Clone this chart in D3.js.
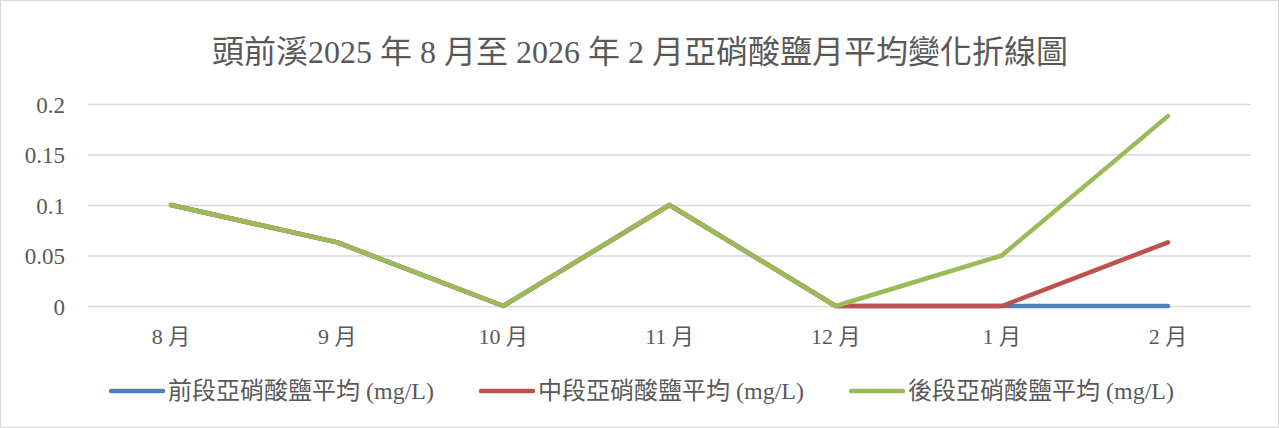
<!DOCTYPE html>
<html>
<head>
<meta charset="utf-8">
<script src="https://cdn.jsdelivr.net/npm/d3@7"></script>
<style>
  html, body { margin: 0; padding: 0; background: #fff; }
  svg { display: block; }
  .cjk { font-family: "Liberation Serif", "Noto Sans CJK TC", serif; }
</style>
</head>
<body>
<svg id="chart" width="1279" height="428"></svg>
<script>
// Monthly nitrite averages (mg/L) at three river sections
const months = ["8 月", "9 月", "10 月", "11 月", "12 月", "1 月", "2 月"];
const frontSeg = [0.1, 0.063, 0, 0.1, 0, 0, 0];
const midSeg   = [0.1, 0.063, 0, 0.1, 0, 0, 0.063];
const backSeg  = [0.1, 0.063, 0, 0.1, 0, 0.05, 0.188];
const yTicks = [0, 0.05, 0.1, 0.15, 0.2];
const seriesNames = ["前段亞硝酸鹽平均 (mg/L)", "中段亞硝酸鹽平均 (mg/L)", "後段亞硝酸鹽平均 (mg/L)"];
const seriesColors = ["#4f81bd", "#c0504d", "#9bbb59"];
const titleText = "頭前溪2025 年 8 月至 2026 年 2 月亞硝酸鹽月平均變化折線圖";

const series = [frontSeg, midSeg, backSeg].map((vals, i) => ({
  name: seriesNames[i], color: seriesColors[i], values: vals
}));

const W = 1279, H = 428;
const plot = { left: 88, right: 1251, top: 104, bottom: 306 };
const svg = d3.select("#chart");

// outer chart frame
svg.append("rect").attr("x", 0.5).attr("y", 0.5).attr("width", W - 1).attr("height", H - 1)
  .attr("fill", "#fff").attr("stroke", "#d9d9d9");

const x = d3.scaleBand().domain(months).range([plot.left, plot.right]);
const y = d3.scaleLinear().domain([0, 0.2]).range([plot.bottom, plot.top]);

// title
svg.append("text").attr("class", "cjk")
  .attr("x", 640).attr("y", 63).attr("text-anchor", "middle")
  .attr("font-size", 32).attr("fill", "#595959").text(titleText);

// horizontal gridlines and y labels
const yAxis = d3.axisLeft(y).tickValues(yTicks).tickSize(-(plot.right - plot.left))
  .tickPadding(23).tickFormat(d => String(d));
const gy = svg.append("g").attr("transform", `translate(${plot.left},0)`).call(yAxis);
gy.select(".domain").remove();
gy.selectAll(".tick line").attr("stroke", "#d9d9d9").attr("stroke-width", 1.3);
gy.selectAll(".tick text").attr("class", "cjk").attr("font-size", 23).attr("fill", "#595959")
  .attr("dy", "0.35em");

// category labels
const xAxis = d3.axisBottom(x).tickSize(0).tickPadding(22);
const gx = svg.append("g").attr("transform", `translate(0,${plot.bottom})`).call(xAxis);
gx.select(".domain").remove();
gx.selectAll(".tick text").attr("class", "cjk").attr("font-size", 22).attr("fill", "#595959");

// series lines
const line = d3.line().x((d, i) => x(months[i]) + x.bandwidth() / 2).y(d => y(d));
svg.append("g").selectAll("path").data(series).join("path")
  .attr("d", d => line(d.values))
  .attr("fill", "none").attr("stroke", d => d.color).attr("stroke-width", 4.5)
  .attr("stroke-linecap", "round").attr("stroke-linejoin", "round");

// legend
const legendX = [111, 481, 851];
const lg = svg.append("g").selectAll("g").data(series).join("g")
  .attr("transform", (d, i) => `translate(${legendX[i]},391)`);
lg.append("line").attr("x1", 0).attr("x2", 52).attr("y1", 0).attr("y2", 0)
  .attr("stroke", d => d.color).attr("stroke-width", 4.5).attr("stroke-linecap", "round");
lg.append("text").attr("class", "cjk").attr("x", 57).attr("y", 0).attr("dy", "0.35em")
  .attr("font-size", 24).attr("fill", "#595959").text(d => d.name);
</script>
</body>
</html>
